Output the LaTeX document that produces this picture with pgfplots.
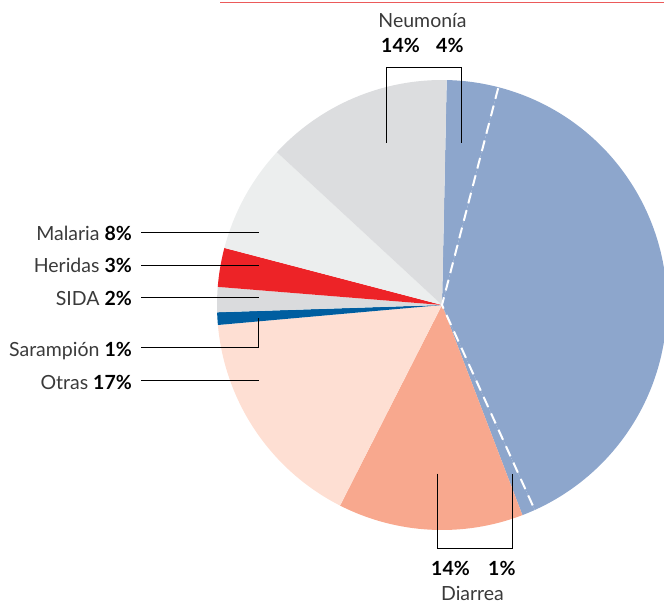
\documentclass[border=0pt]{standalone}
\usepackage{fontspec}
\setmainfont{Lato}
\usepackage{pgfplots}
\usepackage{pgfplotstable}
\pgfplotsset{compat=1.18}
\usetikzlibrary{calc}

\definecolor{slice0}{HTML}{8DA6CC}
\definecolor{slice1}{HTML}{8DA6CC}
\definecolor{slice2}{HTML}{8DA6CC}
\definecolor{slice3}{HTML}{F8A88E}
\definecolor{slice4}{HTML}{FEDFD3}
\definecolor{slice5}{HTML}{005EA0}
\definecolor{slice6}{HTML}{DADBDD}
\definecolor{slice7}{HTML}{ED2327}
\definecolor{slice8}{HTML}{ECEEEE}
\definecolor{slice9}{HTML}{DCDDDF}
\definecolor{txt}{HTML}{3A3A3A}
\definecolor{topred}{HTML}{EB5A5A}

% share of each slice (percent), clockwise from the top
\pgfplotstableread{
name value
Neumonia4 3.7
Neonatal 39.2
Diarrea1 0.95
Diarrea14 13.3
Otras 16.1
Sarampion 0.9
SIDA 1.8
Heridas 2.8
Malaria 7.8
Neumonia14 13.45
}\piedata

\begin{document}
\gdef\cum{88.8}%
\foreach \i in {0,...,9}{%
  \pgfplotstablegetelem{\i}{value}\of\piedata
  \pgfmathsetmacro\nxt{\cum-3.6*\pgfplotsretval}%
  \expandafter\xdef\csname sa\i\endcsname{\cum}%
  \expandafter\xdef\csname ea\i\endcsname{\nxt}%
  \xdef\cum{\nxt}%
}%
\begin{tikzpicture}
\begin{axis}[x=1pt, y=1pt, xmin=0, xmax=664, ymin=0, ymax=603,
  hide axis, scale only axis, clip=false]
\coordinate (bl) at (axis cs:0,0);
\coordinate (tr) at (axis cs:664,603);
\pgfplotsinvokeforeach{0,...,9}{
  \fill[slice#1] (axis cs:442,298) -- ++(\csname sa#1\endcsname:225pt)
    arc[start angle=\csname sa#1\endcsname, end angle=\csname ea#1\endcsname, radius=225pt] -- cycle;
}
\draw[white, line width=2pt, dash pattern=on 11pt off 7pt] (axis cs:442,298) ++(\csname ea0\endcsname:224pt) -- (axis cs:442,298);
\draw[white, line width=2pt, dash pattern=on 11pt off 7pt] (axis cs:442,298) ++(\csname ea1\endcsname:220pt) -- (axis cs:442,298);
% top rule
\draw[topred, line width=1.4pt] (axis cs:220,600.5) -- (axis cs:664,600.5);
% brackets
\draw[black, line width=0.9pt] (axis cs:386,460) -- (axis cs:386,535.5) -- (axis cs:461,535.5) -- (axis cs:461,460);
\draw[black, line width=0.9pt] (axis cs:437,129.5) -- (axis cs:437,54.5) -- (axis cs:512,54.5) -- (axis cs:512,129.5);
% left leader lines
\draw[black, line width=0.9pt] (axis cs:141,370.5) -- (axis cs:259,370.5);
\draw[black, line width=0.9pt] (axis cs:141,338) -- (axis cs:259,338);
\draw[black, line width=0.9pt] (axis cs:141,306) -- (axis cs:259,306);
\draw[black, line width=0.9pt] (axis cs:141,256) -- (axis cs:258,256) -- (axis cs:258,285);
\draw[black, line width=0.9pt] (axis cs:141,223) -- (axis cs:259,223);
% texts
\tikzset{lbl/.style={inner sep=0pt, font=\fontsize{19.5}{21}\selectfont, text=txt}}
\node[lbl, anchor=base] at (axis cs:422.5,575) {Neumonía};
\node[lbl, anchor=base west, text=black] at (axis cs:381,550) {\bfseries 14\%};
\node[lbl, anchor=base west, text=black] at (axis cs:436,550) {\bfseries 4\%};
\node[lbl, anchor=base west, text=black] at (axis cs:431,28) {\bfseries 14\%};
\node[lbl, anchor=base west, text=black] at (axis cs:488,28) {\bfseries 1\%};
\node[lbl, anchor=base] at (axis cs:472.5,3) {Diarrea};
\node[lbl, anchor=base east] at (axis cs:132,362) {Malaria \textcolor{black}{\bfseries 8\%}};
\node[lbl, anchor=base east] at (axis cs:132,330) {Heridas \textcolor{black}{\bfseries 3\%}};
\node[lbl, anchor=base east] at (axis cs:132,298) {SIDA \textcolor{black}{\bfseries 2\%}};
\node[lbl, anchor=base east] at (axis cs:132,246.5) {Sarampión \textcolor{black}{\bfseries 1\%}};
\node[lbl, anchor=base east] at (axis cs:132,214) {Otras \textcolor{black}{\bfseries 17\%}};
\end{axis}
\pgfresetboundingbox
\path[use as bounding box] (bl) rectangle (tr);
\end{tikzpicture}
\end{document}
